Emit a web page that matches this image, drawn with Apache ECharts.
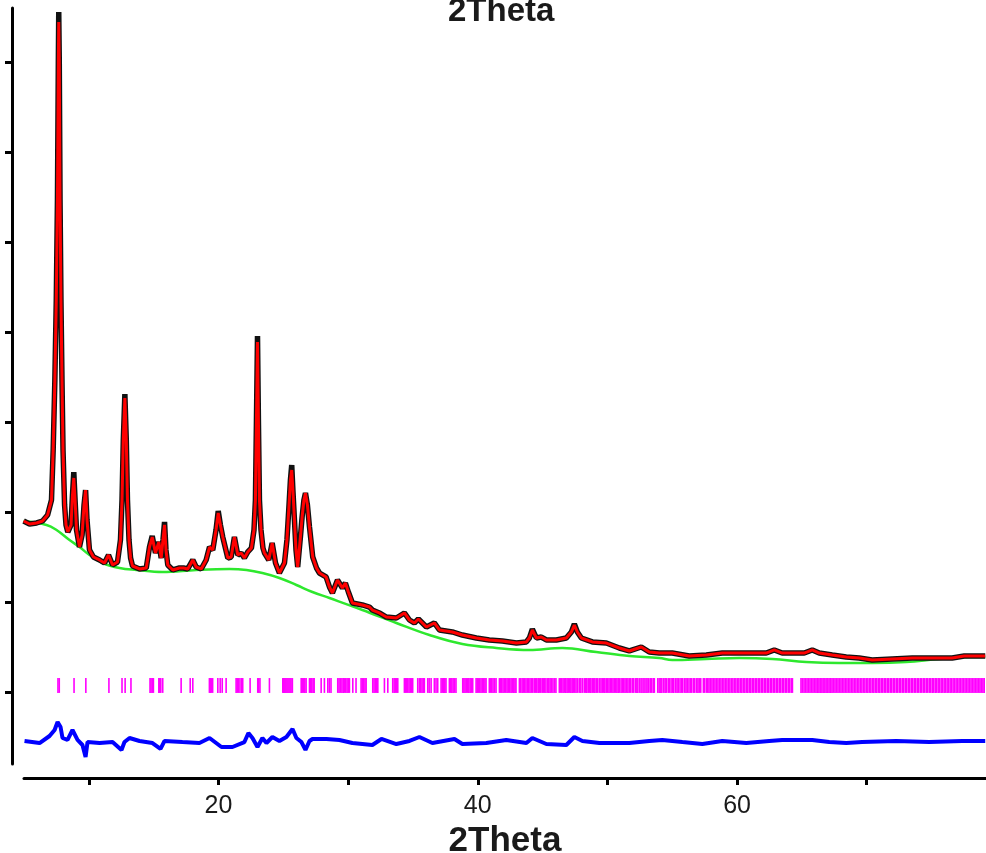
<!DOCTYPE html>
<html>
<head>
<meta charset="utf-8">
<script src="https://cdn.jsdelivr.net/npm/echarts@6/dist/echarts.min.js"></script>
<style>
  html, body { margin: 0; padding: 0; background: #ffffff; }
  #chart { width: 986px; height: 853px; }
</style>
</head>
<body>
<div id="chart"></div>
<script>
// Rietveld refinement plot: observed, calculated, background, difference and reflection markers.

const twoTheta = [
  4.97, 5.43, 5.97, 6.43, 6.82, 7.12, 7.25, 7.38, 7.49, 7.58,
  7.65, 7.68, 7.72, 7.78, 7.85, 7.93, 8.01, 8.13, 8.24, 8.38,
  8.63, 8.74, 8.84, 8.94, 9.05, 9.28, 9.48, 9.63, 9.75, 9.86,
  10.05, 10.36, 10.83, 11.21, 11.52, 11.83, 12.21, 12.44, 12.56, 12.66,
  12.78, 12.89, 12.98, 13.10, 13.22, 13.37, 13.91, 14.43, 14.68, 14.89,
  15.14, 15.40, 15.58, 15.72, 15.84, 15.95, 16.09, 16.48, 16.99, 17.30,
  17.63, 18.02, 18.28, 18.67, 19.05, 19.31, 19.56, 19.81, 19.98, 20.15,
  20.33, 20.72, 20.98, 21.23, 21.49, 21.75, 22.00, 22.26, 22.54, 22.74,
  22.85, 22.93, 23.01, 23.08, 23.16, 23.28, 23.43, 23.55, 23.88, 24.14,
  24.40, 24.70, 25.09, 25.28, 25.42, 25.55, 25.65, 25.74, 25.86, 25.98,
  26.11, 26.32, 26.45, 26.59, 26.71, 26.86, 27.02, 27.27, 27.56, 27.79,
  28.30, 28.56, 28.79, 29.18, 29.56, 29.79, 30.02, 30.33, 31.10, 31.64,
  31.87, 32.41, 32.95, 33.72, 34.34, 34.73, 35.11, 35.42, 36.04, 36.65,
  37.04, 38.04, 38.81, 39.89, 40.89, 41.90, 42.98, 43.75, 43.98, 44.21,
  44.52, 44.90, 45.29, 46.06, 46.83, 47.22, 47.45, 47.68, 47.99, 48.84,
  49.92, 50.92, 51.69, 52.61, 53.23, 54.00, 55.00, 56.31, 57.63, 58.86,
  60.17, 61.48, 62.25, 62.87, 63.48, 64.56, 65.18, 65.80, 66.34, 67.34,
  68.42, 69.42, 70.42, 71.97, 73.51, 75.05, 76.59, 77.52, 79.14
];

const intensityCalc = [
  1900, 1867, 1878, 1900, 1967, 2133, 2689, 3467, 4356, 5467,
  7022, 7444, 7022, 5467, 4356, 3467, 2689, 2078, 1856, 1778,
  1856, 2189, 2378, 2133, 1800, 1611, 1744, 2078, 2244, 1911,
  1578, 1500, 1467, 1433, 1522, 1411, 1444, 1689, 2133, 2800,
  3267, 2800, 2133, 1689, 1489, 1400, 1367, 1378, 1611, 1722,
  1544, 1667, 1489, 1689, 1856, 1578, 1411, 1356, 1378, 1378,
  1367, 1467, 1389, 1367, 1467, 1611, 1578, 1800, 1989, 1856,
  1722, 1489, 1500, 1722, 1522, 1544, 1489, 1556, 1600, 1800,
  2133, 3022, 3889, 3022, 2133, 1800, 1600, 1544, 1467, 1656,
  1433, 1322, 1433, 1689, 2022, 2356, 2467, 2244, 1911, 1578,
  1389, 1722, 1944, 2133, 2211, 2078, 1833, 1500, 1378, 1322,
  1278, 1167, 1100, 1244, 1156, 1211, 1111, 989, 967, 944,
  911, 878, 833, 822, 878, 800, 767, 811, 722, 767,
  689, 667, 633, 600, 578, 567, 544, 556, 600, 689,
  600, 611, 578, 578, 600, 667, 744, 667, 600, 556,
  544, 489, 456, 500, 444, 433, 433, 400, 411, 433,
  433, 433, 433, 467, 433, 433, 433, 467, 433, 411,
  389, 378, 356, 367, 378, 378, 378, 400, 400
];

const intensityObs = [
  1900, 1867, 1878, 1900, 1967, 2133, 2689, 3467, 4356, 5467,
  7022, 7556, 7022, 5467, 4356, 3467, 2689, 2078, 1856, 1778,
  1856, 2189, 2444, 2133, 1800, 1611, 1744, 2078, 2244, 1911,
  1578, 1500, 1467, 1433, 1522, 1411, 1444, 1689, 2133, 2800,
  3311, 2800, 2133, 1689, 1489, 1400, 1367, 1378, 1611, 1733,
  1544, 1667, 1489, 1689, 1889, 1578, 1411, 1356, 1378, 1378,
  1367, 1467, 1389, 1367, 1467, 1611, 1578, 1800, 2011, 1856,
  1722, 1489, 1500, 1722, 1522, 1544, 1489, 1556, 1600, 1800,
  2133, 3022, 3956, 3022, 2133, 1800, 1600, 1544, 1467, 1656,
  1433, 1322, 1433, 1689, 2022, 2356, 2522, 2244, 1911, 1578,
  1389, 1722, 1944, 2133, 2211, 2078, 1833, 1500, 1378, 1322,
  1278, 1167, 1100, 1244, 1156, 1211, 1111, 989, 967, 944,
  911, 878, 833, 822, 878, 800, 767, 811, 722, 767,
  689, 667, 633, 600, 578, 567, 544, 556, 600, 700,
  600, 611, 578, 578, 600, 667, 756, 667, 600, 556,
  544, 489, 456, 500, 444, 433, 433, 400, 411, 433,
  433, 433, 433, 467, 433, 433, 433, 467, 433, 411,
  389, 378, 356, 367, 378, 378, 378, 400, 400
];

const bgTheta = [
  4.97, 6.74, 7.51, 8.51, 9.28, 10.05, 11.06, 12.37, 13.68, 15.68,
  18.30, 20.85, 22.16, 23.39, 24.70, 26.01, 27.25, 28.56, 31.10, 33.72,
  36.27, 38.81, 41.43, 43.98, 46.52, 49.14, 51.69, 54.00, 55.00, 57.63,
  60.17, 62.72, 65.33, 67.88, 70.42, 73.04, 75.59, 78.13, 79.14
];

const bgIntensity = [
  1900, 1856, 1800, 1689, 1611, 1522, 1433, 1378, 1356, 1333,
  1356, 1367, 1356, 1322, 1267, 1189, 1111, 1044, 911, 767,
  633, 533, 489, 467, 489, 444, 400, 378, 356, 367,
  378, 367, 333, 322, 322, 333, 367, 389, 389
];

const diffTheta = [
  5.04, 6.20, 6.97, 7.36, 7.59, 7.82, 7.97, 8.36, 8.74, 9.13,
  9.51, 9.75, 9.90, 10.83, 11.83, 12.52, 12.75, 13.14, 13.91, 14.91,
  15.53, 15.84, 17.22, 18.53, 19.31, 20.23, 21.08, 22.00, 22.31, 22.62,
  23.01, 23.39, 23.70, 24.16, 24.70, 25.24, 25.71, 26.01, 26.40, 26.71,
  27.02, 27.25, 28.33, 29.33, 30.33, 31.87, 32.57, 33.72, 34.73, 35.50,
  36.50, 38.20, 38.81, 40.66, 42.20, 43.75, 44.21, 45.29, 46.83, 47.45,
  48.07, 49.38, 51.69, 53.23, 54.23, 55.78, 57.32, 58.86, 60.71, 62.48,
  63.48, 65.80, 67.11, 68.42, 69.65, 72.27, 74.82, 77.36, 79.14
];

const diffIntensity = [
  -544, -567, -489, -422, -333, -389, -511, -533, -422, -533,
  -589, -722, -556, -567, -556, -644, -556, -511, -544, -567,
  -633, -544, -556, -567, -511, -611, -611, -556, -456, -511,
  -611, -511, -567, -500, -544, -500, -411, -511, -556, -644,
  -544, -522, -522, -533, -567, -589, -522, -578, -544, -500,
  -567, -522, -578, -567, -533, -567, -511, -578, -589, -500,
  -544, -567, -567, -544, -533, -556, -578, -544, -567, -544,
  -533, -533, -556, -567, -556, -544, -556, -544, -544
];

// Bragg reflection positions (2Theta)
const braggPositions = [
  7.62, 7.72, 8.86, 9.77, 11.55, 12.56, 12.80, 13.25, 14.72, 14.80,
  14.90, 14.98, 15.40, 15.47, 15.55, 15.70, 17.12, 17.82, 18.02, 19.30,
  19.36, 19.45, 19.55, 19.95, 20.13, 20.29, 20.59, 21.36, 21.45, 21.55,
  21.66, 21.80, 21.87, 22.44, 23.03, 23.10, 23.20, 23.93, 24.96, 25.04,
  25.12, 25.20, 25.28, 25.36, 25.44, 25.52, 25.60, 25.70,
  26.38, 26.47, 26.56, 26.66, 26.76, 27.02, 27.10, 27.20, 27.30, 27.38,
  27.92, 28.17, 28.43, 28.55, 28.68, 29.20, 29.30, 29.40, 29.52, 29.62,
  29.72, 29.82, 29.92, 30.02, 30.10, 30.36, 30.61, 31.00, 31.10, 31.20,
  31.30, 31.39, 31.90, 32.00, 32.10, 32.20, 32.29, 32.80, 33.06, 33.44,
  33.55, 33.65, 33.75, 33.83, 34.34, 34.42, 34.50, 34.60, 34.70, 34.80,
  34.90, 34.98, 35.37, 35.50, 35.60, 35.70, 35.80, 35.88, 36.14, 36.25,
  36.40, 36.65, 36.78, 36.91, 37.17, 37.27, 37.38, 37.46, 37.55, 37.81,
  37.90, 38.00, 38.10, 38.21, 38.32, 38.84, 38.93, 39.02, 39.12, 39.22,
  39.31, 39.41, 39.50, 39.61, 39.87, 39.96, 40.05, 40.15, 40.25, 40.35,
  40.45, 40.55, 40.64, 40.89, 40.98, 41.08, 41.18, 41.30, 41.41, 41.67,
  41.76, 41.85, 41.95, 42.05, 42.16, 42.26, 42.36, 42.47, 42.57, 42.67,
  42.78, 42.87, 42.95, 43.21, 43.31, 43.42, 43.52, 43.62, 43.72, 43.83,
  43.93, 44.03, 44.14, 44.24, 44.36, 44.46, 44.55, 44.66, 44.76, 44.86,
  44.97, 45.07, 45.16, 45.26, 45.39, 45.48, 45.58, 45.69, 45.80, 45.92,
  46.03, 46.29, 46.38, 46.48, 46.58, 46.68, 46.79, 46.89, 46.98, 47.08,
  47.18, 47.28, 47.38, 47.48, 47.58, 47.70, 47.83, 47.95, 48.08, 48.22,
  48.32, 48.41, 48.52, 48.62,
  48.72, 48.83, 48.93, 49.03, 49.14, 49.25, 49.38, 49.50, 49.60, 49.70,
  49.80, 49.91, 50.01, 50.12, 50.22, 50.33, 50.43, 50.53, 50.63, 50.73,
  50.83, 50.92, 51.05, 51.15, 51.26, 51.36, 51.47, 51.58, 51.69, 51.80,
  51.93, 52.02, 52.16, 52.27, 52.35, 52.49, 52.60, 52.74, 52.83, 52.97,
  53.06, 53.19, 53.31, 53.40, 53.53, 53.62, 53.88, 53.99, 54.12, 54.20,
  54.34, 54.45, 54.55, 54.69, 54.78, 54.91, 55.04, 55.12, 55.26, 55.37,
  55.47, 55.60, 55.72, 55.81, 55.95, 56.06, 56.16, 56.29, 56.41, 56.50,
  56.64, 56.73, 56.87, 56.98, 57.08, 57.20, 57.40, 57.49, 57.63, 57.74,
  57.84, 57.97, 58.07, 58.20, 58.30, 58.43, 58.53, 58.66, 58.76, 58.89,
  58.99, 59.12, 59.22, 59.35, 59.45, 59.58, 59.68, 59.81, 59.91, 60.04,
  60.14, 60.27, 60.37, 60.50, 60.60, 60.73, 60.83, 60.96, 61.06, 61.19,
  61.29, 61.42, 61.52, 61.65, 61.75, 61.88, 61.98, 62.11, 62.21, 62.34,
  62.44, 62.57, 62.67, 62.80, 62.90, 63.03, 63.13, 63.26, 63.36, 63.49,
  63.59, 63.72, 63.82, 63.95, 64.05, 64.18, 64.27, 64.93, 65.03, 65.16,
  65.26, 65.39, 65.49, 65.62, 65.72, 65.85, 65.95, 66.08, 66.18, 66.31,
  66.41, 66.54, 66.64, 66.77, 66.87, 67.00, 67.10, 67.23, 67.33, 67.46,
  67.56, 67.69, 67.79, 67.92, 68.02, 68.15, 68.25, 68.38, 68.48, 68.61,
  68.71, 68.84, 68.94, 69.07, 69.17, 69.30, 69.40, 69.53, 69.63, 69.76,
  69.86, 69.99, 70.09, 70.22, 70.32, 70.45, 70.55, 70.68, 70.78, 70.91,
  71.01, 71.14, 71.24, 71.37, 71.47, 71.60, 71.70, 71.83, 71.93, 72.06,
  72.16, 72.29, 72.39, 72.52, 72.62, 72.75, 72.85, 72.98, 73.08, 73.21,
  73.31, 73.44, 73.54, 73.67, 73.77, 73.90, 74.00, 74.13, 74.23, 74.36,
  74.46, 74.59, 74.69, 74.82, 74.92, 75.05, 75.15, 75.28, 75.38, 75.51,
  75.61, 75.74, 75.84, 75.97, 76.07, 76.20, 76.30, 76.43, 76.53, 76.66,
  76.76, 76.89, 76.99, 77.12, 77.22, 77.35, 77.45, 77.58, 77.68, 77.81,
  77.91, 78.04, 78.14, 78.27, 78.37, 78.50, 78.60, 78.73, 78.83, 78.96,
  79.06
];

// vertical extent of the reflection markers, in intensity units
const braggSpan = [-10, 155];

const xTickValues = [10, 20, 30, 40, 50, 60, 70];
const xLabelValues = [20, 40, 60];
const yTickValues = [0, 1000, 2000, 3000, 4000, 5000, 6000, 7000];

const pairs = (xs, ys) => xs.map((x, i) => [x, ys[i]]);
const FONT = '"Liberation Sans", Arial, Helvetica, sans-serif';

const chart = echarts.init(document.getElementById('chart'), null, { renderer: 'canvas' });

chart.setOption({
  animation: false,
  backgroundColor: '#ffffff',
  title: {
    text: '2Theta',
    left: 443,
    top: -10,
    textStyle: { fontFamily: FONT, fontSize: 33, fontWeight: 'bold', color: '#1a1a1a' }
  },
  grid: {
    left: 24, right: 0, top: 8, bottom: 89,
    containLabel: false,
    outerBoundsMode: 'none'
  },
  xAxis: {
    type: 'value',
    min: 5,
    max: 79.2,
    position: 'bottom',
    offset: 14,
    name: '2Theta',
    nameLocation: 'middle',
    nameGap: 44,
    nameTextStyle: { fontFamily: FONT, fontSize: 35, fontWeight: 'bold', color: '#1a1a1a' },
    axisLine: { show: true, onZero: false, lineStyle: { color: '#000000', width: 3 } },
    axisTick: { show: true, inside: false, length: 7, lineStyle: { color: '#000000', width: 3 }, customValues: xTickValues },
    axisLabel: { show: true, fontFamily: FONT, fontSize: 25, color: '#1a1a1a', margin: 16, customValues: xLabelValues },
    splitLine: { show: false }
  },
  yAxis: {
    type: 'value',
    min: -800,
    max: 7600,
    position: 'left',
    offset: 12,
    axisLine: { show: true, onZero: false, lineStyle: { color: '#000000', width: 3 } },
    axisTick: { show: true, inside: false, length: 7, lineStyle: { color: '#000000', width: 3 }, customValues: yTickValues },
    axisLabel: { show: false },
    splitLine: { show: false }
  },
  series: [
    {
      name: 'Background',
      type: 'line',
      data: pairs(bgTheta, bgIntensity),
      smooth: 0.4,
      showSymbol: false,
      lineStyle: { color: '#2ee82e', width: 2.5 },
      z: 2
    },
    {
      name: 'Observed',
      type: 'line',
      data: pairs(twoTheta, intensityObs),
      showSymbol: false,
      lineStyle: { color: '#111111', width: 5.5 },
      z: 3
    },
    {
      name: 'Calculated',
      type: 'line',
      data: pairs(twoTheta, intensityCalc),
      showSymbol: false,
      lineStyle: { color: '#ff0000', width: 3 },
      z: 4
    },
    {
      name: 'Difference',
      type: 'line',
      data: pairs(diffTheta, diffIntensity),
      showSymbol: false,
      lineStyle: { color: '#0000ff', width: 4 },
      z: 3
    },
    {
      name: 'Bragg positions',
      type: 'custom',
      data: braggPositions.map(p => [p, braggSpan[0], braggSpan[1]]),
      renderItem: function (params, api) {
        const low = api.coord([api.value(0), api.value(1)]);
        const high = api.coord([api.value(0), api.value(2)]);
        return {
          type: 'rect',
          shape: { x: low[0] - 0.8, y: high[1], width: 1.6, height: low[1] - high[1] },
          style: { fill: '#ff00ff' }
        };
      },
      z: 2
    }
  ]
});
</script>
</body>
</html>
